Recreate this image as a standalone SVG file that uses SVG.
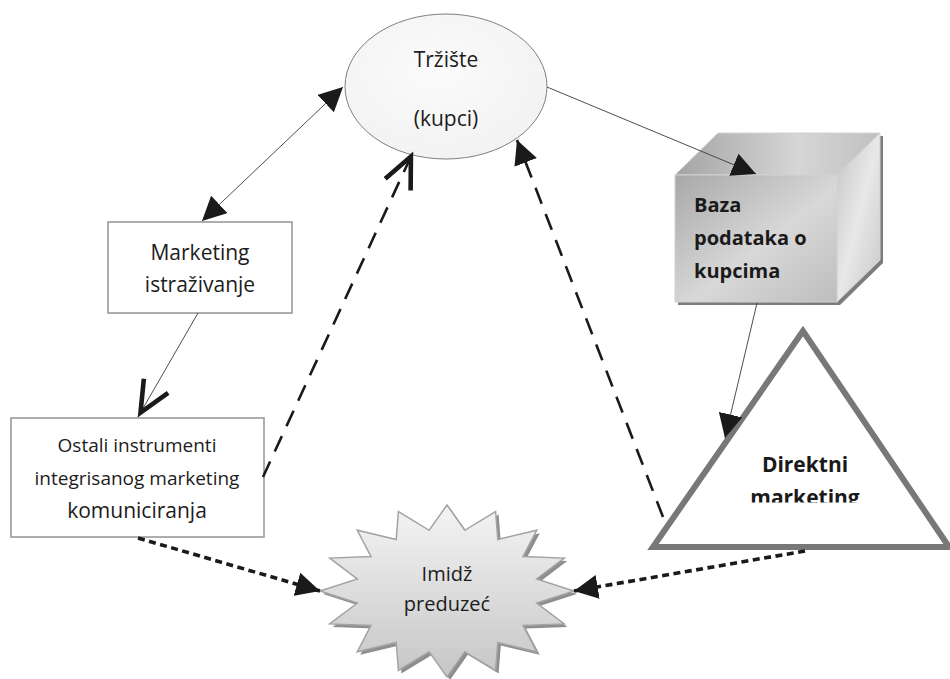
<svg xmlns="http://www.w3.org/2000/svg" width="950" height="679" viewBox="0 0 950 679">
  <defs>
    <style>
      .lbl { font-family: "Open Sans", "Noto Sans", "DejaVu Sans", sans-serif; fill: #1c1c1c; text-anchor: middle; }
      .bold { font-family: "Open Sans", "Noto Sans", "DejaVu Sans", sans-serif; font-weight: bold; fill: #1a1a1a; }
      .box { fill: #fff; stroke: #9a9a9a; stroke-width: 1.6; }
      .thin { fill: none; stroke: #3a3a3a; stroke-width: 0.9; }
      .dash { fill: none; stroke: #1a1a1a; stroke-width: 2.6; stroke-dasharray: 17 11; }
      .dot { fill: none; stroke: #1a1a1a; stroke-width: 3.6; stroke-dasharray: 7 4.5; }
    </style>
    <marker id="head" viewBox="0 0 24 24" refX="24" refY="12" markerWidth="24" markerHeight="24" markerUnits="userSpaceOnUse" orient="auto-start-reverse">
      <path d="M0,0 L24,12 L0,24 z" fill="#1a1a1a"/>
    </marker>
    <marker id="vee" viewBox="-40 -20 44 40" refX="0" refY="0" markerWidth="44" markerHeight="40" markerUnits="userSpaceOnUse" orient="auto">
      <path d="M-36,-14 L-5,0 L-36,14" fill="none" stroke="#1a1a1a" stroke-width="4.6"/>
    </marker>
    <radialGradient id="ellFill" cx="0.45" cy="0.4" r="0.7">
      <stop offset="0" stop-color="#fbfbfb"/>
      <stop offset="1" stop-color="#f1f1f1"/>
    </radialGradient>
    <linearGradient id="frontFill" x1="0" y1="0" x2="1" y2="1">
      <stop offset="0" stop-color="#a8a8a8"/>
      <stop offset="0.55" stop-color="#d8d8d8"/>
      <stop offset="1" stop-color="#bdbdbd"/>
    </linearGradient>
    <linearGradient id="topFill" x1="0" y1="0" x2="1" y2="0">
      <stop offset="0" stop-color="#a4a4a4"/>
      <stop offset="0.6" stop-color="#d6d6d6"/>
      <stop offset="1" stop-color="#c0c0c0"/>
    </linearGradient>
    <linearGradient id="sideFill" x1="0" y1="0" x2="1" y2="1">
      <stop offset="0" stop-color="#c4c4c4"/>
      <stop offset="0.5" stop-color="#e8e8e8"/>
      <stop offset="1" stop-color="#c8c8c8"/>
    </linearGradient>
    <linearGradient id="starFill" x1="0" y1="0" x2="0" y2="1">
      <stop offset="0" stop-color="#f4f4f4"/>
      <stop offset="1" stop-color="#c6c6c6"/>
    </linearGradient>
    <clipPath id="triClip">
      <rect x="640" y="440" width="310" height="62.5"/>
    </clipPath>
  </defs>

  <rect width="950" height="679" fill="#fff"/>

  <!-- market ellipse -->
  <g id="trziste">
    <ellipse cx="446" cy="86.5" rx="101" ry="72.5" fill="url(#ellFill)" stroke="#7f7f7f" stroke-width="1"/>
    <text class="lbl" x="446" y="67" font-size="21">Tržište</text>
    <text class="lbl" x="446" y="126" font-size="21">(kupci)</text>
  </g>

  <!-- research box -->
  <g id="istrazivanje">
    <rect class="box" x="108" y="222" width="184" height="91"/>
    <text class="lbl" x="200" y="260" font-size="21">Marketing</text>
    <text class="lbl" x="200" y="292" font-size="21">istraživanje</text>
  </g>

  <!-- other IMC instruments box -->
  <g id="ostali">
    <rect class="box" x="11" y="418" width="253" height="119"/>
    <text class="lbl" x="137" y="452" font-size="19">Ostali instrumenti</text>
    <text class="lbl" x="137" y="485" font-size="19">integrisanog marketing</text>
    <text class="lbl" x="137" y="518" font-size="21">komuniciranja</text>
  </g>

  <!-- customer database cube -->
  <g id="baza">
    <polygon points="678,178 721,136 883,136 883,263 840,305 678,305" fill="#7c7c7c"/>
    <polygon points="675,175 718,133 880,133 837,175" fill="url(#topFill)" stroke="#d2d2d2" stroke-width="1"/>
    <polygon points="837,175 880,133 880,260 837,302" fill="url(#sideFill)" stroke="#d2d2d2" stroke-width="1"/>
    <rect x="675" y="175" width="162" height="127" fill="url(#frontFill)" stroke="#d2d2d2" stroke-width="1"/>
    <text class="bold" x="694" y="212" font-size="20">Baza</text>
    <text class="bold" x="694" y="245" font-size="20">podataka o</text>
    <text class="bold" x="694" y="278" font-size="20">kupcima</text>
  </g>

  <!-- direct marketing triangle -->
  <g id="direktni">
    <polygon points="803,331 653,547 949,547" fill="#fff" stroke="#787878" stroke-width="6"/>
    <text class="bold" x="805" y="472" font-size="21" text-anchor="middle">Direktni</text>
    <text class="bold" x="805" y="505" font-size="21" text-anchor="middle" clip-path="url(#triClip)">marketing</text>
  </g>

  <!-- company image star -->
  <g id="imidz">
    <polygon transform="translate(3,3)" fill="#8e8e8e" points="447,505 464.8,530.3 495.6,511.5 497.8,539.5 536.8,530.2 523,556.6 564.3,558.1 536.6,578.9 574,591 536.6,603.1 564.3,623.9 523,625.4 536.8,651.8 497.8,642.5 495.6,670.5 464.8,651.7 447,677 429.2,651.7 398.4,670.5 396.2,642.5 357.2,651.8 371,625.4 329.7,623.9 357.4,603.1 320,591 357.4,578.9 329.7,558.1 371,556.6 357.2,530.2 396.2,539.5 398.4,511.5 429.2,530.3"/>
    <polygon fill="url(#starFill)" stroke="#a4a4a4" stroke-width="1.5" points="447,505 464.8,530.3 495.6,511.5 497.8,539.5 536.8,530.2 523,556.6 564.3,558.1 536.6,578.9 574,591 536.6,603.1 564.3,623.9 523,625.4 536.8,651.8 497.8,642.5 495.6,670.5 464.8,651.7 447,677 429.2,651.7 398.4,670.5 396.2,642.5 357.2,651.8 371,625.4 329.7,623.9 357.4,603.1 320,591 357.4,578.9 329.7,558.1 371,556.6 357.2,530.2 396.2,539.5 398.4,511.5 429.2,530.3"/>
    <text class="lbl" x="447" y="581" font-size="20">Imidž</text>
    <text class="lbl" x="447" y="611" font-size="20">preduzeć</text>
  </g>

  <!-- connectors -->
  <g id="connectors">
    <line class="thin" x1="202" y1="221" x2="343" y2="87" marker-start="url(#head)" marker-end="url(#head)"/>
    <line class="thin" x1="198" y1="313" x2="138" y2="417" marker-end="url(#vee)"/>
    <line class="dash" x1="263" y1="477" x2="413" y2="152" marker-end="url(#vee)"/>
    <line class="dash" x1="663" y1="517" x2="517" y2="140" marker-end="url(#head)"/>
    <line class="thin" x1="547" y1="87" x2="756" y2="174" marker-end="url(#head)"/>
    <line class="thin" x1="757" y1="303" x2="725" y2="438" marker-end="url(#head)"/>
    <line class="dot" x1="138" y1="538" x2="320" y2="591" marker-end="url(#head)"/>
    <line class="dot" x1="805" y1="551" x2="574" y2="591" marker-end="url(#head)"/>
  </g>
</svg>
